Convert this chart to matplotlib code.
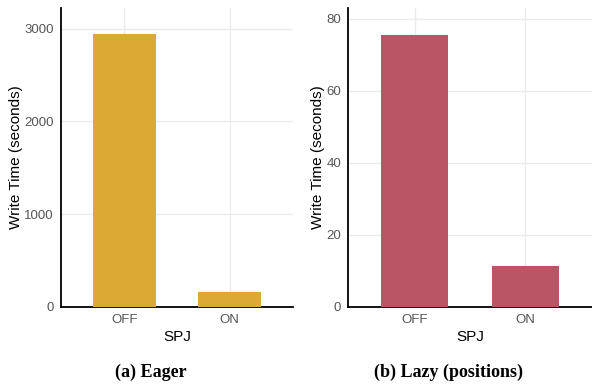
import matplotlib
matplotlib.use("Agg")
import matplotlib.pyplot as plt

categories = ["OFF", "ON"]
eager_values = [2937, 162]
lazy_values = [75.6, 11.3]
eager_ticks = [0, 1000, 2000, 3000]
lazy_ticks = [0, 20, 40, 60, 80]

plt.rcParams['font.family'] = ['Liberation Sans', 'DejaVu Sans']

fig = plt.figure(figsize=(5.92, 3.88), dpi=100)
ax1 = fig.add_axes([0.103, 0.209, 0.392, 0.771])
ax2 = fig.add_axes([0.588, 0.2095, 0.412, 0.770])

def style(ax, values, color, ticks, ymax):
    x = list(range(len(categories)))
    ax.bar(x, values, width=0.6, color=color, zorder=3)
    ax.set_xlim(-0.6, 1.6)
    ax.set_ylim(0, ymax)
    ax.set_xticks(x)
    ax.set_xticklabels(categories)
    ax.set_yticks(ticks)
    ax.grid(True, color='#ebebeb', linewidth=1.0, zorder=0)
    ax.tick_params(length=0, labelsize=9.5, labelcolor='#555555', pad=5)
    for s in ['top', 'right']:
        ax.spines[s].set_visible(False)
    for s in ['left', 'bottom']:
        ax.spines[s].set_linewidth(1.3)
        ax.spines[s].set_color('black')
    ax.set_xlabel('SPJ', fontsize=11, labelpad=3)
    ax.set_ylabel('Write Time (seconds)', fontsize=11, labelpad=1)

style(ax1, eager_values, '#DBA934', eager_ticks, 3225)
style(ax2, lazy_values, '#BA5565', lazy_ticks, 83)

fig.text(0.255, 0.040, '(a) Eager', ha='center', va='center', fontsize=13,
         fontweight='bold', family=['Liberation Serif', 'DejaVu Serif'])
fig.text(0.757, 0.040, '(b) Lazy (positions)', ha='center', va='center', fontsize=13,
         fontweight='bold', family=['Liberation Serif', 'DejaVu Serif'])

fig.savefig('out.png', dpi=100)
